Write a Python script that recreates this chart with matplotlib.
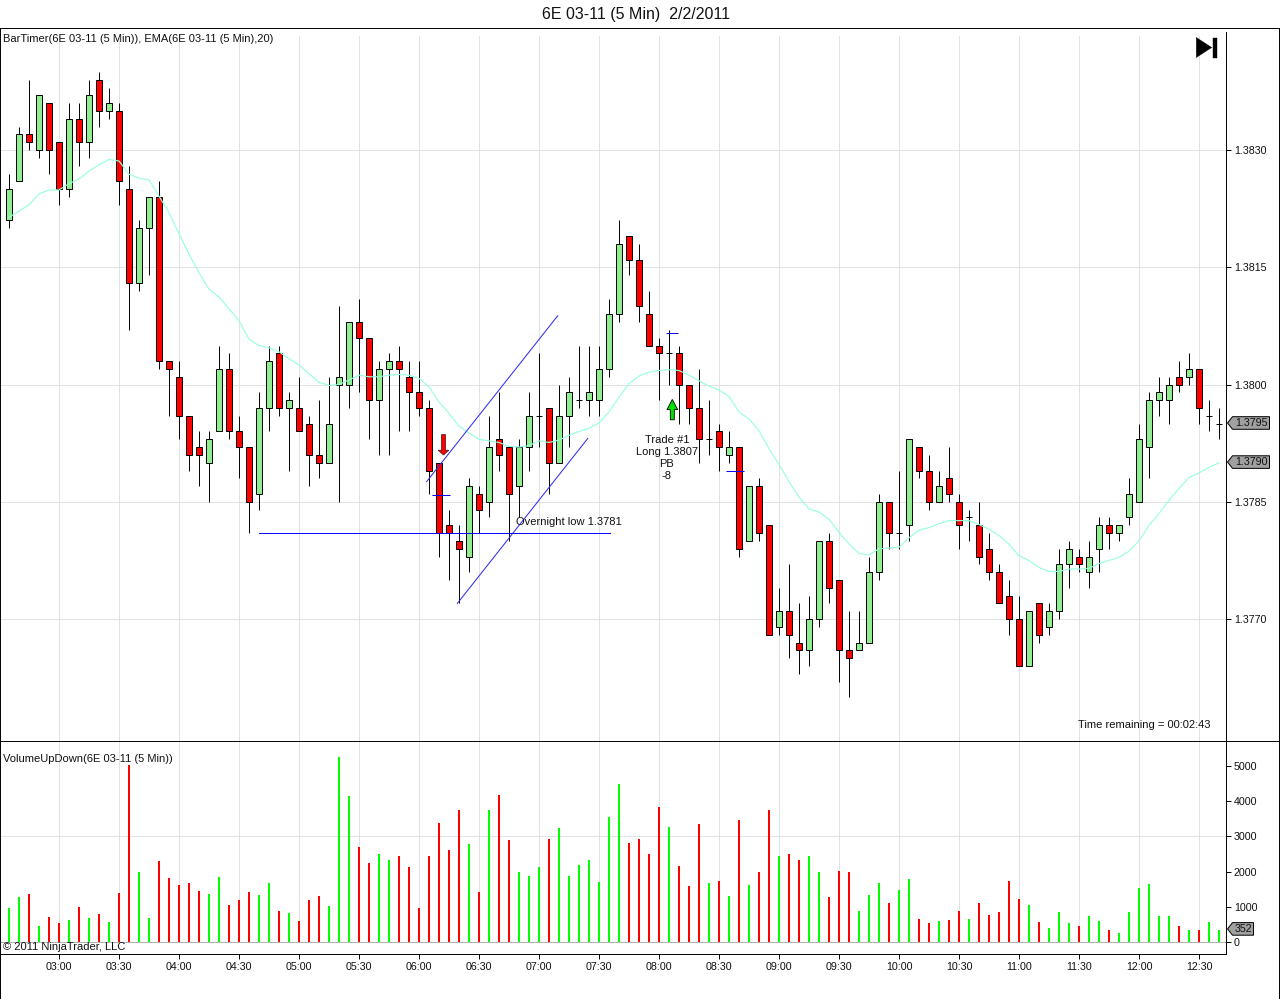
import matplotlib
matplotlib.use("Agg")
import matplotlib.pyplot as plt
from matplotlib.lines import Line2D
from matplotlib.patches import FancyArrow, Polygon

plt.rcParams['font.family'] = ['Liberation Sans', 'DejaVu Sans']

# 5 minute bars, 02:35 to 12:40
opens = [1.3821, 1.3826, 1.3832, 1.3830, 1.3836, 1.3831, 1.3825, 1.3834, 1.3831, 1.3839, 1.3835,
         1.3835, 1.3825, 1.3813, 1.3820, 1.3824, 1.3803, 1.3801, 1.3796, 1.3792, 1.3790, 1.3794,
         1.3802, 1.3794, 1.3792, 1.3786, 1.3797, 1.3804, 1.3797, 1.3797, 1.3795, 1.3791, 1.3790,
         1.3800, 1.3800, 1.3808, 1.3806, 1.3798, 1.3802, 1.3803, 1.3801, 1.3799, 1.3797, 1.3790,
         1.3782, 1.3780, 1.3778, 1.3786, 1.3785, 1.3793, 1.3792, 1.3787, 1.3792, 1.3796, 1.3797,
         1.3790, 1.3796, 1.3798, 1.3798, 1.3798, 1.3802, 1.3809, 1.3819, 1.3816, 1.3809, 1.3805,
         1.3804, 1.3804, 1.3800, 1.3797, 1.3793, 1.3794, 1.3791, 1.3792, 1.3780, 1.3787, 1.3782,
         1.3769, 1.3771, 1.3767, 1.3766, 1.3770, 1.3780, 1.3775, 1.3766, 1.3766, 1.3767, 1.3776,
         1.3785, 1.3781, 1.3782, 1.3792, 1.3789, 1.3785, 1.3788, 1.3785, 1.3783, 1.3782, 1.3779,
         1.3776, 1.3773, 1.3770, 1.3764, 1.3772, 1.3769, 1.3771, 1.3777, 1.3778, 1.3776, 1.3779,
         1.3782, 1.3781, 1.3783, 1.3785, 1.3792, 1.3798, 1.3798, 1.3801, 1.3801, 1.3802, 1.3796,
         1.3795]
highs = [1.3827, 1.3833, 1.3839, 1.3837, 1.3836, 1.3831, 1.3836, 1.3836, 1.3839, 1.3840, 1.3838,
         1.3836, 1.3828, 1.3821, 1.3824, 1.3826, 1.3803, 1.3803, 1.3796, 1.3794, 1.3794, 1.3805,
         1.3804, 1.3796, 1.3792, 1.3799, 1.3805, 1.3805, 1.3799, 1.3801, 1.3796, 1.3798, 1.3801,
         1.3810, 1.3808, 1.3811, 1.3806, 1.3803, 1.3804, 1.3805, 1.3803, 1.3803, 1.3798, 1.3790,
         1.3784, 1.3782, 1.3788, 1.3787, 1.3796, 1.3799, 1.3792, 1.3793, 1.3799, 1.3804, 1.3797,
         1.3800, 1.3801, 1.3805, 1.3805, 1.3805, 1.3811, 1.3821, 1.3819, 1.3818, 1.3812, 1.3806,
         1.3807, 1.3805, 1.3800, 1.3802, 1.3798, 1.3795, 1.3794, 1.3792, 1.3787, 1.3788, 1.3782,
         1.3774, 1.3777, 1.3772, 1.3773, 1.3780, 1.3781, 1.3775, 1.3771, 1.3771, 1.3778, 1.3786,
         1.3785, 1.3789, 1.3793, 1.3792, 1.3791, 1.3789, 1.3792, 1.3786, 1.3784, 1.3785, 1.3781,
         1.3777, 1.3775, 1.3773, 1.3771, 1.3772, 1.3772, 1.3779, 1.3780, 1.3779, 1.3780, 1.3783,
         1.3783, 1.3782, 1.3788, 1.3795, 1.3799, 1.3801, 1.3801, 1.3803, 1.3804, 1.3802, 1.3798,
         1.3797]
lows = [1.3820, 1.3826, 1.3830, 1.3829, 1.3827, 1.3823, 1.3824, 1.3828, 1.3829, 1.3833, 1.3834,
        1.3823, 1.3807, 1.3812, 1.3814, 1.3802, 1.3796, 1.3793, 1.3789, 1.3787, 1.3785, 1.3794,
        1.3793, 1.3788, 1.3781, 1.3784, 1.3794, 1.3796, 1.3789, 1.3794, 1.3787, 1.3788, 1.3790,
        1.3785, 1.3797, 1.3799, 1.3793, 1.3791, 1.3791, 1.3794, 1.3794, 1.3796, 1.3786, 1.3778,
        1.3775, 1.3772, 1.3776, 1.3781, 1.3783, 1.3789, 1.3780, 1.3783, 1.3789, 1.3792, 1.3786,
        1.3790, 1.3792, 1.3797, 1.3796, 1.3796, 1.3801, 1.3808, 1.3814, 1.3808, 1.3805, 1.3798,
        1.3800, 1.3795, 1.3795, 1.3790, 1.3791, 1.3789, 1.3790, 1.3778, 1.3780, 1.3780, 1.3768,
        1.3768, 1.3765, 1.3763, 1.3764, 1.3769, 1.3772, 1.3762, 1.3760, 1.3766, 1.3767, 1.3775,
        1.3779, 1.3779, 1.3780, 1.3788, 1.3784, 1.3785, 1.3785, 1.3779, 1.3780, 1.3777, 1.3775,
        1.3772, 1.3768, 1.3764, 1.3764, 1.3767, 1.3768, 1.3770, 1.3774, 1.3776, 1.3774, 1.3776,
        1.3779, 1.3780, 1.3782, 1.3785, 1.3788, 1.3796, 1.3795, 1.3799, 1.3800, 1.3795, 1.3794,
        1.3793]
closes = [1.3825, 1.3832, 1.3831, 1.3837, 1.3830, 1.3825, 1.3834, 1.3831, 1.3837, 1.3835, 1.3836,
          1.3826, 1.3813, 1.3820, 1.3824, 1.3803, 1.3802, 1.3796, 1.3791, 1.3791, 1.3793, 1.3802,
          1.3794, 1.3792, 1.3785, 1.3797, 1.3803, 1.3797, 1.3798, 1.3794, 1.3791, 1.3790, 1.3795,
          1.3801, 1.3808, 1.3806, 1.3798, 1.3802, 1.3803, 1.3802, 1.3799, 1.3797, 1.3789, 1.3781,
          1.3781, 1.3779, 1.3787, 1.3784, 1.3792, 1.3791, 1.3786, 1.3792, 1.3796, 1.3796, 1.3790,
          1.3796, 1.3799, 1.3798, 1.3799, 1.3802, 1.3809, 1.3818, 1.3816, 1.3810, 1.3805, 1.3804,
          1.3804, 1.3800, 1.3797, 1.3793, 1.3793, 1.3792, 1.3792, 1.3779, 1.3787, 1.3781, 1.3768,
          1.3771, 1.3768, 1.3766, 1.3770, 1.3780, 1.3774, 1.3766, 1.3765, 1.3767, 1.3776, 1.3785,
          1.3781, 1.3781, 1.3793, 1.3789, 1.3785, 1.3787, 1.3786, 1.3782, 1.3783, 1.3778, 1.3776,
          1.3772, 1.3770, 1.3764, 1.3771, 1.3768, 1.3771, 1.3777, 1.3779, 1.3777, 1.3778, 1.3782,
          1.3781, 1.3782, 1.3786, 1.3793, 1.3798, 1.3799, 1.3800, 1.3800, 1.3802, 1.3797, 1.3796,
          1.3795]
ema20 = [1.38214, 1.38222, 1.38230, 1.38244, 1.38249, 1.38249, 1.38257, 1.38263, 1.38273, 1.38281,
         1.38288, 1.38286, 1.38269, 1.38264, 1.38262, 1.38241, 1.38220, 1.38193, 1.38167, 1.38143,
         1.38122, 1.38112, 1.38097, 1.38082, 1.38058, 1.38050, 1.38047, 1.38042, 1.38033, 1.38025,
         1.38014, 1.38003, 1.37999, 1.38000, 1.38006, 1.38012, 1.38010, 1.38010, 1.38012, 1.38013,
         1.38012, 1.38008, 1.37997, 1.37978, 1.37963, 1.37947, 1.37938, 1.37930, 1.37928, 1.37926,
         1.37921, 1.37920, 1.37922, 1.37928, 1.37926, 1.37929, 1.37935, 1.37940, 1.37944, 1.37951,
         1.37965, 1.37984, 1.38001, 1.38011, 1.38016, 1.38018, 1.38019, 1.38018, 1.38012, 1.38005,
         1.37998, 1.37993, 1.37985, 1.37965, 1.37956, 1.37941, 1.37918, 1.37898, 1.37876, 1.37856,
         1.37841, 1.37837, 1.37828, 1.37811, 1.37796, 1.37784, 1.37782, 1.37790, 1.37791, 1.37792,
         1.37804, 1.37814, 1.37817, 1.37822, 1.37826, 1.37826, 1.37826, 1.37821, 1.37815, 1.37807,
         1.37796, 1.37781, 1.37775, 1.37766, 1.37761, 1.37761, 1.37764, 1.37764, 1.37765, 1.37771,
         1.37775, 1.37779, 1.37787, 1.37800, 1.37820, 1.37835, 1.37852, 1.37867, 1.37881, 1.37887,
         1.37894, 1.37900]
volume = [977, 1290, 1376, 465, 721, 550, 636, 1006, 693, 806, 579, 1404, 5019, 2002, 693, 2315,
          1831, 1632, 1689, 1461, 1376, 1860, 1063, 1205, 1433, 1347, 1689, 892, 835, 607, 1205,
          1319, 1034, 5247, 4137, 2685, 2258, 2514, 2343, 2429, 2144, 977, 2457, 3368, 2600, 3738,
          2770, 1433, 3738, 4165, 2884, 2002, 1888, 2144, 2913, 3226, 1888, 2201, 2343, 1717, 3539,
          4478, 2799, 2913, 2514, 3824, 3254, 2173, 1603, 3340, 1689, 1746, 1319, 3454, 1632, 2002,
          3738, 2429, 2514, 2343, 2457, 2002, 1290, 2030, 2002, 892, 1347, 1689, 1120, 1490, 1803,
          664, 550, 607, 636, 892, 664, 1120, 778, 863, 1746, 1233, 1063, 579, 408, 863, 550, 465,
          750, 607, 351, 266, 863, 1546, 1660, 750, 750, 465, 351, 351, 579, 352]

time_labels = ["03:00", "03:30", "04:00", "04:30", "05:00", "05:30", "06:00", "06:30", "07:00", "07:30",
               "08:00", "08:30", "09:00", "09:30", "10:00", "10:30", "11:00", "11:30", "12:00", "12:30"]
time_ticks = [5 + 6 * i for i in range(len(time_labels))]
price_ticks = [1.3770, 1.3785, 1.3800, 1.3815, 1.3830]
volume_ticks = [0, 1000, 2000, 3000, 4000, 5000]

W, H = 1280, 999
PX = 0.7  # just under one pixel, so straight lines stay crisp
TXT = '#111111'
GRID = '#e2e2e2'


def fig_rect(left, top, right, bottom):
    return [left / W, 1 - bottom / H, (right - left) / W, (bottom - top) / H]


fig = plt.figure(figsize=(W / 100, H / 100), dpi=100, facecolor='white')
ax = fig.add_axes(fig_rect(0, 36, 1226, 741))
ax2 = fig.add_axes(fig_rect(0, 741, 1226, 954))

bars = range(len(closes))

for a in (ax, ax2):
    a.set_xlim(-0.9, 121.7)
    a.set_axisbelow(True)
    a.set_xticks(time_ticks)
    for s in ('top', 'left', 'right'):
        a.spines[s].set_visible(False)
    a.yaxis.tick_right()
    a.tick_params(axis='y', length=3.6, width=PX, labelsize=7.7, pad=2, labelcolor=TXT)

ax.set_ylim(1.375441, 1.384459)
ax.set_yticks(price_ticks)
ax.set_yticklabels(["%.4f" % p for p in price_ticks])
ax.grid(True, color=GRID, lw=PX)
ax.spines['bottom'].set_visible(False)
ax.tick_params(axis='x', length=0, labelbottom=False)

# candles
for i in bars:
    ax.vlines(i, lows[i], highs[i], color='black', lw=PX, zorder=2)
    if opens[i] == closes[i]:
        ax.hlines(opens[i], i - 0.33, i + 0.33, color='black', lw=PX, zorder=2)
    else:
        col = '#90EE90' if closes[i] > opens[i] else '#FF0000'
        ax.bar(i, abs(closes[i] - opens[i]), bottom=min(opens[i], closes[i]), width=0.6,
               color=col, edgecolor='black', linewidth=PX, zorder=3)

ax.plot(bars, ema20, color='#99FFDD', lw=0.85, zorder=4)

# drawing tools on the chart
ax.plot([41.77, 54.87], [1.37876, 1.38088], color='#3030F0', lw=0.75, zorder=5)
ax.plot([44.83, 57.87], [1.37720, 1.37931], color='#3030F0', lw=0.75, zorder=5)
ax.plot([25.0, 60.1], [1.3781, 1.3781], color='#0000FF', lw=PX, zorder=8)
ax.hlines(1.37859, 42.3, 44.1, color='#0000FF', lw=PX, zorder=8)
ax.hlines(1.38066, 65.7, 66.9, color='#0000FF', lw=PX, zorder=8)
ax.hlines(1.37889, 71.7, 73.5, color='#0000FF', lw=PX, zorder=8)

ax.add_patch(FancyArrow(43.45, 1.37936, 0, -0.00026, width=0.4, head_width=1.07, head_length=0.00006,
                        length_includes_head=True, fc='#FF0000', ec='#552222', lw=0.6, zorder=6))
ax.add_patch(FancyArrow(66.33, 1.37955, 0, 0.00026, width=0.4, head_width=1.07, head_length=0.00013,
                        length_includes_head=True, fc='#00E000', ec='black', lw=0.6, zorder=6))

ax.text(56.0, 1.37824, "Overnight low 1.3781", fontsize=8, ha='center', va='center', color=TXT, zorder=7)
ax.text(65.8, 1.37906, "Trade #1\nLong 1.3807\nPB\n-8", fontsize=8, ha='center', va='center',
        linespacing=1.28, color=TXT, zorder=7)
fig.text(3 / W, 1 - 39 / H, "BarTimer(6E 03-11 (5 Min)), EMA(6E 03-11 (5 Min),20)", fontsize=8, va='center', color=TXT)
fig.text(1210 / W, 1 - 725 / H, "Time remaining = 00:02:43", fontsize=8, ha='right', va='center', color=TXT)

# volume panel
vol_colors = ['#FF0000' if closes[i] < opens[i] else '#00FF00' for i in bars]
ax2.set_ylim(-341, 5710)
ax2.set_yticks(volume_ticks)
ax2.set_yticklabels([str(v) for v in volume_ticks])
ax2.vlines(time_ticks, 0, 5710, color=GRID, lw=PX, zorder=1)
ax2.axhline(3000, color=GRID, lw=PX, zorder=1)
ax2.axhline(0, color='#b0b0b0', lw=PX, zorder=1)
ax2.bar(bars, volume, width=0.2, color=vol_colors, linewidth=0, zorder=3)
ax2.set_xticklabels(time_labels)
ax2.spines['bottom'].set_linewidth(PX)
ax2.tick_params(axis='x', length=3.6, width=PX, labelsize=7.7, pad=2.5, labelcolor=TXT)
fig.text(3 / W, 1 - 758.5 / H, "VolumeUpDown(6E 03-11 (5 Min))", fontsize=8.05, va='center', color=TXT)
fig.text(3 / W, 1 - 947 / H, "\u00a9 2011 NinjaTrader, LLC", fontsize=8.05, va='center', color=TXT)


# grey value tags on the right of the axis
def value_tag(a, value, label, right):
    y = a.transData.transform((0, value))[1] / H + 0.7 / H
    left = 1227.5 / W
    tip = 5 / W
    half = 6.3 / H
    pts = [(left, y), (left + tip, y + half), (right / W, y + half), (right / W, y - half), (left + tip, y - half)]
    fig.add_artist(Polygon(pts, closed=True, transform=fig.transFigure, fc='#A0A0A0', ec='black', lw=PX))
    fig.text((right - 1.5) / W, y - 0.0004, label, fontsize=7.7, ha='right', va='center', color=TXT)


value_tag(ax, closes[-1], "%.4f" % closes[-1], 1269.5)
value_tag(ax, ema20[-1], "%.4f" % ema20[-1], 1269.5)
value_tag(ax2, volume[-1], str(volume[-1]), 1253.5)

# outer frame and panel lines: (x0, x1, y0, y1) in pixels
for x0, x1, y0, y1 in [(0, W, 28, 28), (0, W, 741, 741), (0, W, 999, 999), (0, 0, 28, H), (1279, 1279, 28, H),
                       (1226, 1226, 32, 954)]:
    fig.add_artist(Line2D([x0 / W, x1 / W], [1 - y0 / H, 1 - y1 / H], color='black', lw=PX))

# go-to-latest icon
fig.add_artist(Polygon([(1196.3 / W, 1 - 37.5 / H), (1196.3 / W, 1 - 57.5 / H), (1211.7 / W, 1 - 47.5 / H)],
                       closed=True, transform=fig.transFigure, fc='black', ec='black', lw=0.3))
fig.add_artist(Polygon([(1213 / W, 1 - 37.5 / H), (1213 / W, 1 - 57.5 / H), (1217 / W, 1 - 57.5 / H),
                        (1217 / W, 1 - 37.5 / H)],
                       closed=True, transform=fig.transFigure, fc='black', ec='black', lw=0.3))

fig.text(636 / W, 1 - 14 / H, "6E 03-11 (5 Min)  2/2/2011", fontsize=11.5, ha='center', va='center', color=TXT)

fig.savefig("out.png", dpi=100, facecolor='white')
